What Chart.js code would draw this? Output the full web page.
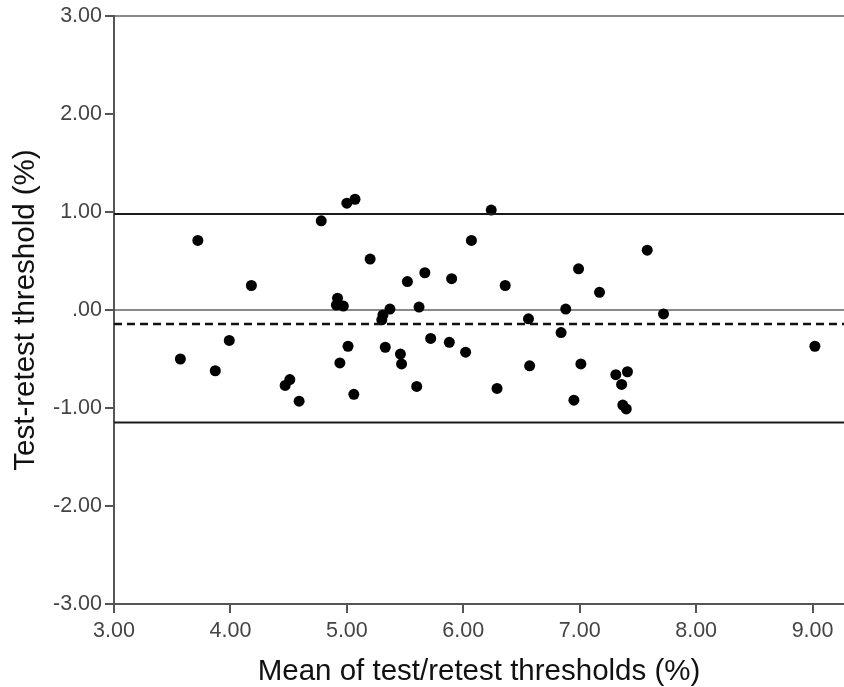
<!DOCTYPE html>
<html>
<head>
<meta charset="utf-8">
<script src="https://cdn.jsdelivr.net/npm/chart.js@4"></script>
<style>
  html, body { margin: 0; padding: 0; background: #fff; }
  #wrap { width: 844px; height: 687px; }
</style>
</head>
<body>
<div id="wrap"><canvas id="plot"></canvas></div>
<script>
// mean of test/retest (x) vs test-retest difference (y)
const meanVals = [3.72, 3.57, 3.87, 3.99, 4.18, 4.47, 4.51, 4.59, 4.78, 5.00, 5.07, 5.20, 4.92, 4.91, 4.97, 5.01,
  4.94, 5.06, 5.37, 5.31, 5.30, 5.33, 6.24, 6.07, 7.58, 5.52, 5.67, 5.90, 6.36, 6.99, 7.17, 5.62, 6.88, 7.72,
  6.56, 6.84, 5.46, 5.47, 5.72, 5.88, 6.02, 6.57, 7.01, 5.60, 6.29, 6.95, 7.31, 7.41, 7.36, 7.37, 7.40, 9.02];
const diffVals = [0.71, -0.50, -0.62, -0.31, 0.25, -0.77, -0.71, -0.93, 0.91, 1.09, 1.13, 0.52, 0.12, 0.05, 0.04, -0.37,
  -0.54, -0.86, 0.01, -0.05, -0.10, -0.38, 1.02, 0.71, 0.61, 0.29, 0.38, 0.32, 0.25, 0.42, 0.18, 0.03, 0.01, -0.04,
  -0.09, -0.23, -0.45, -0.55, -0.29, -0.33, -0.43, -0.57, -0.55, -0.78, -0.80, -0.92, -0.66, -0.63, -0.76, -0.97, -1.01, -0.37];

const meanDiff = -0.143;
const upperLimit = 0.98;
const lowerLimit = -1.147;

const xTicks = [3, 4, 5, 6, 7, 8, 9];
const xMin = 3, xMax = 9.27;
const yMin = -3, yMax = 3;

const points = meanVals.map((m, i) => ({ x: m, y: diffVals[i] }));
const hline = v => [{ x: xMin, y: v }, { x: xMax, y: v }];

const tickFont = { family: 'Liberation Sans, Arial, sans-serif', size: 21.5 };
const titleFont = { family: 'Liberation Sans, Arial, sans-serif', size: 29.5, lineHeight: 1 };

new Chart(document.getElementById('plot'), {
  type: 'scatter',
  data: {
    datasets: [
      { type: 'line', data: hline(upperLimit), borderColor: '#1a1a1a', borderWidth: 2, pointRadius: 0 },
      { type: 'line', data: hline(lowerLimit), borderColor: '#1a1a1a', borderWidth: 2, pointRadius: 0 },
      { type: 'line', data: hline(meanDiff), borderColor: '#111', borderWidth: 2.5, borderDash: [8, 5], pointRadius: 0 },
      { data: points, backgroundColor: '#000', borderWidth: 0, pointRadius: 5.5, pointHoverRadius: 5.5 }
    ]
  },
  options: {
    responsive: true,
    maintainAspectRatio: false,
    animation: false,
    layout: { autoPadding: false, padding: { top: 16, right: 0, left: 0, bottom: 0 } },
    plugins: { legend: { display: false }, tooltip: { enabled: false } },
    scales: {
      x: {
        type: 'linear',
        min: xMin,
        max: xMax,
        afterBuildTicks: s => { s.ticks = xTicks.map(v => ({ value: v })); },
        afterFit: s => { s.height = 83; s.paddingRight = 0; s.paddingLeft = 0; },
        border: { color: '#555', width: 2 },
        grid: { drawOnChartArea: false, tickLength: 9, tickColor: '#555', lineWidth: 2 },
        ticks: { font: tickFont, color: '#444', padding: 5, maxRotation: 0, callback: v => v.toFixed(2) },
        title: { display: true, text: 'Mean of test/retest thresholds (%)', font: titleFont, color: '#111', padding: 0 }
      },
      y: {
        min: yMin,
        max: yMax,
        afterFit: s => { s.width = 114; },
        border: { color: '#555', width: 2 },
        grid: {
          color: c => (c.tick && (c.tick.value === 3 || c.tick.value === 0)) ? '#8a8a8a' : 'rgba(0,0,0,0)',
          lineWidth: 2,
          tickLength: 9,
          tickColor: '#555'
        },
        ticks: {
          stepSize: 1,
          font: tickFont,
          color: '#444',
          padding: 3,
          callback: v => v === 0 ? '.00' : v.toFixed(2)
        },
        title: { display: true, text: 'Test-retest threshold (%)', font: titleFont, color: '#111', padding: { top: 11, bottom: 0 } }
      }
    }
  }
});
</script>
</body>
</html>
